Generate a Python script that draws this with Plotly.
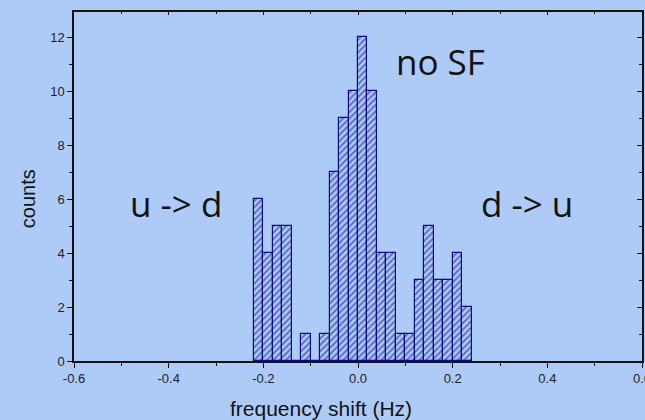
import plotly.graph_objects as go

# histogram bins (centers, Hz) and counts
bin_centers = [-0.21, -0.19, -0.17, -0.15, -0.13, -0.11, -0.09, -0.07, -0.05, -0.03, -0.01,
               0.01, 0.03, 0.05, 0.07, 0.09, 0.11, 0.13, 0.15, 0.17, 0.19, 0.21, 0.23]
counts = [6, 4, 5, 5, 0, 1, 0, 1, 7, 9, 10,
          12, 10, 4, 4, 1, 1, 3, 5, 3, 3, 4, 2]
bin_width = 0.02

x_ticks = [-0.6, -0.4, -0.2, 0.0, 0.2, 0.4, 0.6]
x_ticklabels = ["-0.6", "-0.4", "-0.2", "0.0", "0.2", "0.4", "0.6"]
y_ticks = [0, 2, 4, 6, 8, 10, 12]

labels = ["no SF", "u -> d", "d -> u"]
label_x = [0.175, -0.385, 0.358]
label_y = [11.1, 5.85, 5.85]

x_title = "frequency shift (Hz)"
y_title = "counts"

BG = "#aecbf7"
NAVY = "#0c0c88"

fig = go.Figure()
fig.add_trace(go.Bar(
    x=bin_centers, y=counts, width=bin_width,
    marker=dict(color=BG, line=dict(color=NAVY, width=1.2),
                pattern=dict(shape="/", fgcolor=NAVY, bgcolor=BG, size=4.5, solidity=0.42)),
    showlegend=False,
))
fig.add_trace(go.Scatter(x=[], y=[], xaxis="x2", yaxis="y2", showlegend=False))

tickfont = dict(family="Liberation Sans, Arial", size=13, color="#222222")
xr = [-0.6, 0.6]
yr = [0, 12.93]

fig.update_layout(
    width=645, height=420,
    margin=dict(l=74, r=3, t=12, b=59),
    paper_bgcolor=BG, plot_bgcolor=BG,
    bargap=0,
    xaxis=dict(range=xr, tickvals=x_ticks, ticktext=x_ticklabels, ticks="outside",
               ticklen=5, tickwidth=1.2, tickcolor="#111111", automargin=False,
               ticklabeloverflow="allow",
               minor=dict(dtick=0.1, tick0=0, ticks="outside", ticklen=3, tickcolor="#111111"),
               showline=True, linecolor="#111111", linewidth=1.5, showgrid=False, zeroline=False,
               tickfont=tickfont),
    yaxis=dict(range=yr, tickvals=y_ticks, ticks="outside", ticklen=5, tickwidth=1.2, tickcolor="#111111",
               automargin=False, ticklabeloverflow="allow",
               minor=dict(dtick=1, tick0=0, ticks="outside", ticklen=3, tickcolor="#111111"),
               showline=True, linecolor="#111111", linewidth=1.5, showgrid=False, zeroline=False,
               tickfont=tickfont),
    xaxis2=dict(range=xr, overlaying="x", side="top", anchor="y2", tickvals=x_ticks, ticks="inside",
                ticklen=3, tickcolor="#111111", showticklabels=False, automargin=False,
                minor=dict(dtick=0.1, tick0=0, ticks="inside", ticklen=2, tickcolor="#111111"),
                showline=True, linecolor="#111111", linewidth=1.5, showgrid=False, zeroline=False),
    yaxis2=dict(range=yr, overlaying="y", side="right", anchor="x2", tickvals=y_ticks, ticks="inside",
                ticklen=5, tickcolor="#111111", showticklabels=False, automargin=False,
                minor=dict(dtick=1, tick0=0, ticks="inside", ticklen=3, tickcolor="#111111"),
                showline=True, linecolor="#111111", linewidth=1.5, showgrid=False, zeroline=False),
)

for t, xv, yv in zip(labels, label_x, label_y):
    fig.add_annotation(x=xv, y=yv, xref="x", yref="y", text=t, showarrow=False,
                       font=dict(family="Open Sans", size=35, color="#111111"))

fig.add_annotation(x=0.4349, y=-0.1347, xref="paper", yref="paper", text=x_title,
                   showarrow=False, xanchor="center", yanchor="middle",
                   font=dict(family="Liberation Sans, Arial", size=21, color="#111111"))
fig.add_annotation(x=-0.0815, y=0.4656, xref="paper", yref="paper", text=y_title, textangle=-90,
                   showarrow=False, xanchor="center", yanchor="middle",
                   font=dict(family="Liberation Sans, Arial", size=20, color="#111111"))

fig.write_html("out.html", config={"displayModeBar": False},
               post_script="document.body.style.margin='0';document.body.style.overflow='hidden';")
